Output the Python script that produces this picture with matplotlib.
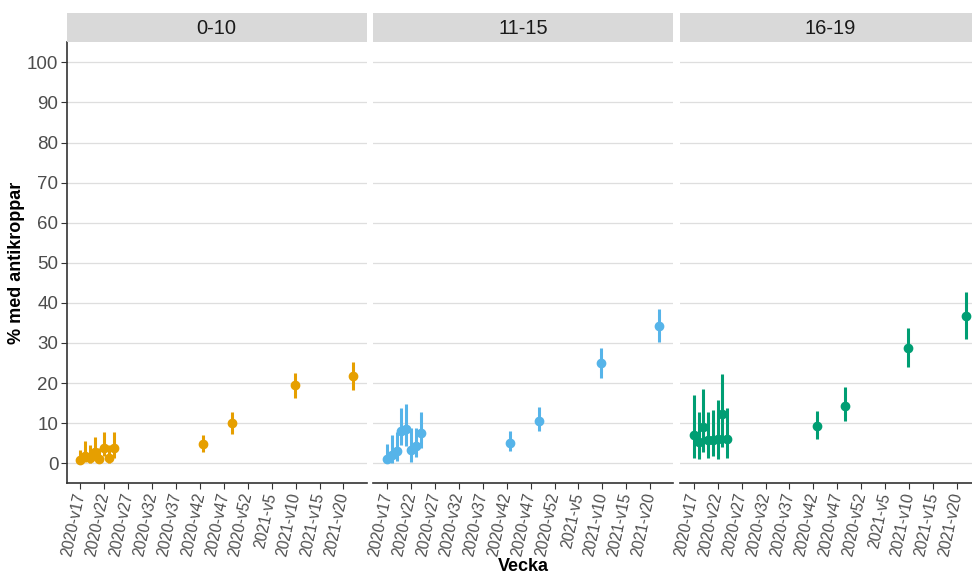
import numpy as np
import matplotlib.pyplot as plt

plt.rcParams['font.family'] = ['Liberation Sans', 'DejaVu Sans']

# ----------------------
# Données : % med antikroppar per åldersgrupp och vecka
# ----------------------
grupper = ["0-10", "11-15", "16-19"]
farger = ["#E69F00", "#56B4E9", "#009E73"]

# veckor räknat från 2020-v17
veckor = [0, 1, 2, 3, 4, 5, 6, 7, 25.7, 31.7, 44.8, 56.9]

andel_0_10 = [0.7, 1.9, 1.4, 2.8, 1.0, 3.9, 1.4, 3.8, 4.8, 10.0, 19.4, 21.8]
lag_0_10 = [0.0, 0.2, 0.0, 0.8, 0.2, 1.7, 0.0, 1.3, 2.8, 7.3, 16.4, 18.3]
hog_0_10 = [3.3, 5.6, 4.5, 6.6, 3.9, 7.7, 4.6, 7.7, 7.1, 12.9, 22.6, 25.2]

andel_11_15 = [1.0, 2.0, 3.0, 8.0, 8.5, 3.3, 4.4, 7.5, 5.0, 10.5, 25.0, 34.3]
lag_11_15 = [0.0, 0.0, 0.6, 4.6, 4.3, 0.4, 1.5, 3.8, 3.0, 8.0, 21.3, 30.2]
hog_11_15 = [4.8, 7.1, 7.7, 13.8, 14.8, 8.8, 8.9, 12.8, 8.0, 14.0, 28.8, 38.5]

andel_16_19 = [7.1, 5.3, 9.0, 5.8, 5.8, 6.0, 12.4, 6.1, 9.3, 14.4, 28.8, 36.8]
lag_16_19 = [1.4, 1.0, 2.9, 1.4, 1.7, 1.0, 4.0, 1.4, 6.0, 10.5, 24.0, 31.1]
hog_16_19 = [17.1, 12.8, 18.5, 12.9, 13.3, 15.7, 22.3, 13.9, 13.0, 18.9, 33.8, 42.7]

tick_pos = [0, 5, 10, 15, 20, 25, 30, 35, 40, 45, 50, 55]
tick_labels = ["2020-v17", "2020-v22", "2020-v27", "2020-v32", "2020-v37", "2020-v42",
               "2020-v47", "2020-v52", "2021-v5", "2021-v10", "2021-v15", "2021-v20"]

serier = [
    (andel_0_10, lag_0_10, hog_0_10),
    (andel_11_15, lag_11_15, hog_11_15),
    (andel_16_19, lag_16_19, hog_16_19),
]

# ----------------------
# Figur
# ----------------------
W, H = 972, 574
fig = plt.figure(figsize=(W / 100, H / 100), dpi=100)

panel_w = 300
gap = 6.7
left0 = 66.7
top = 42.3
bottom = 483.3
strip_top = 12.7

for i, (namn, farg, (y, lo, hi)) in enumerate(zip(grupper, farger, serier)):
    x0 = left0 + i * (panel_w + gap)
    ax = fig.add_axes([x0 / W, 1 - bottom / H, panel_w / W, (bottom - top) / H])
    y = np.array(y)
    lo = np.array(lo)
    hi = np.array(hi)
    ax.vlines(veckor, lo, hi, color=farg, lw=2.2, zorder=3)
    ax.plot(veckor, y, 'o', color=farg, markersize=6, zorder=4)

    ax.set_xlim(-2.85, 59.85)
    ax.set_ylim(-5, 105)
    ax.set_yticks(range(0, 101, 10))
    ax.set_xticks(tick_pos)
    ax.set_xticklabels(tick_labels, rotation=78, ha='right', va='center',
                       rotation_mode='anchor', fontsize=11.2, color='#4D4D4D')
    ax.grid(axis='y', color='#DEDEDE', lw=0.9)
    ax.set_axisbelow(True)
    for s in ['top', 'right']:
        ax.spines[s].set_visible(False)
    ax.spines['bottom'].set_color('#333333')
    ax.spines['bottom'].set_linewidth(1.2)
    ax.tick_params(axis='x', length=4, color='#333333', pad=3)
    if i == 0:
        ax.spines['left'].set_color('#333333')
        ax.spines['left'].set_linewidth(1.2)
        ax.tick_params(axis='y', length=4, color='#333333', labelsize=13.5,
                       labelcolor='#4D4D4D', pad=2)
        ax.set_ylabel("% med antikroppar", fontsize=13, fontweight='bold')
        ax.yaxis.set_label_coords(-0.138, 0.5)
    else:
        ax.spines['left'].set_visible(False)
        ax.tick_params(axis='y', length=0, labelleft=False)
    if i == 1:
        ax.set_xlabel("Vecka", fontsize=13, fontweight='bold', labelpad=0)

    # rubrikremsa
    sax = fig.add_axes([x0 / W, 1 - top / H, panel_w / W, (top - strip_top) / H])
    sax.set_facecolor('#D9D9D9')
    sax.set_xticks([])
    sax.set_yticks([])
    for s in sax.spines.values():
        s.set_visible(False)
    sax.text(0.5, 0.48, namn, ha='center', va='center', fontsize=14.5, color='#1A1A1A',
             transform=sax.transAxes)

fig.savefig("out.png", dpi=100)
